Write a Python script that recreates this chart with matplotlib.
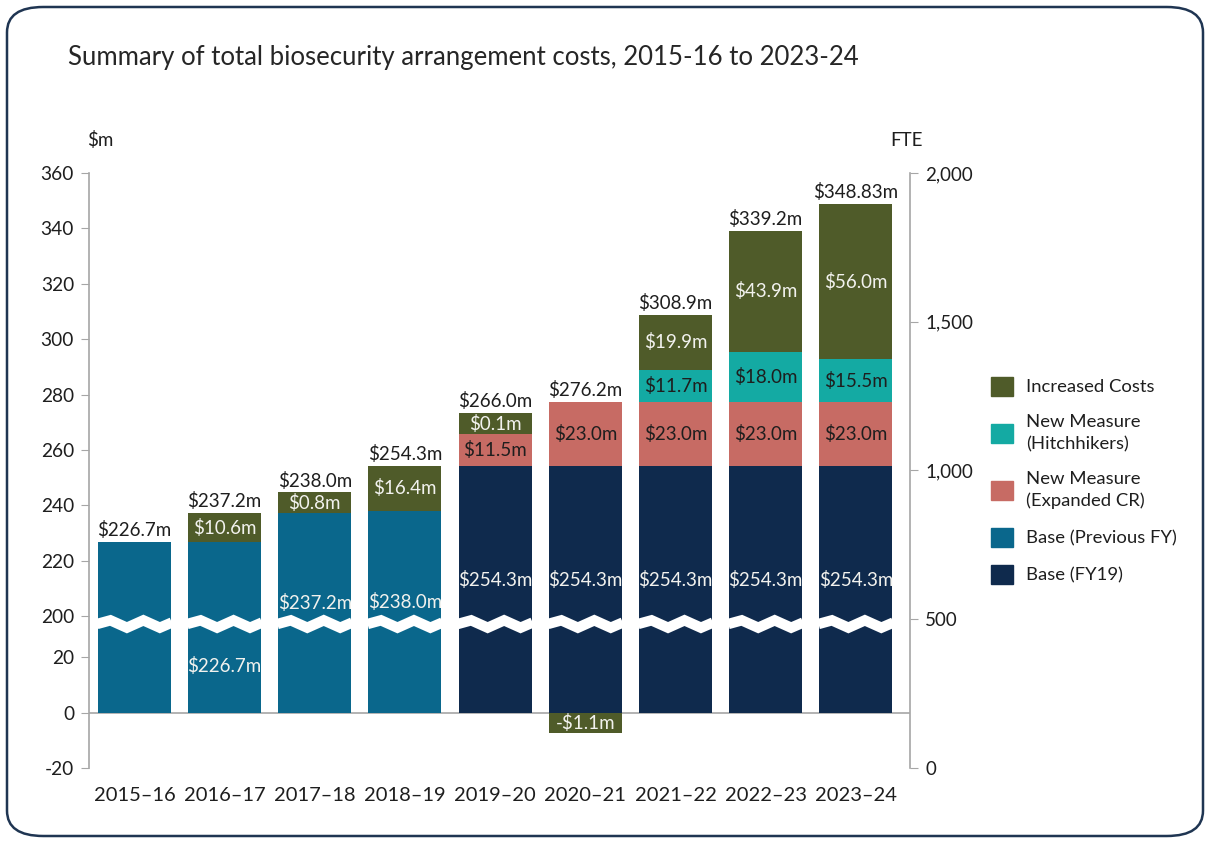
import numpy as np
import matplotlib.pyplot as plt
from matplotlib.patches import Patch, FancyBboxPatch

plt.rcParams['font.family'] = ['Lato', 'DejaVu Sans']

# Data
years = ['2015–16', '2016–17', '2017–18', '2018–19', '2019–20',
         '2020–21', '2021–22', '2022–23', '2023–24']
base_prev = [226.7, 226.7, 237.2, 238.0, 0, 0, 0, 0, 0]
base_fy19 = [0, 0, 0, 0, 254.3, 254.3, 254.3, 254.3, 254.3]
expanded_cr = [0, 0, 0, 0, 11.5, 23.0, 23.0, 23.0, 23.0]
hitchhikers = [0, 0, 0, 0, 0, 0, 11.7, 18.0, 15.5]
increased = [0, 10.6, 0.8, 16.4, 0.1, -1.1, 19.9, 43.9, 56.0]
totals = [226.7, 237.2, 238.0, 254.3, 266.0, 276.2, 308.9, 339.2, 348.83]
show_base_label = [False, True, True, True, True, True, True, True, True]

left_ticks = [-20, 0, 20, 200, 220, 240, 260, 280, 300, 320, 340, 360]
fte_ticks = [0, 500, 1000, 1500, 2000]

c_prev = '#0A678C'
c_fy19 = '#0F2A4D'
c_cr = '#C76B64'
c_hh = '#14AAA3'
c_inc = '#4F5B29'
light = '#F2F2EE'
dark = '#1E1E1E'

# broken value axis: 20..200 squeezed into a small gap
GAP = 14.8
xp = [-1000, 20, 200, 1000]
fp = [-1000, 20, 20 + GAP, 20 + GAP + 800]


def fwd(v):
    return np.interp(v, xp, fp)


def inv(u):
    return np.interp(u, fp, xp)


MIN_H = 7.5  # smallest drawn height so a label fits

fig = plt.figure(figsize=(12.1, 8.44), dpi=100)
ax = fig.add_axes([89.3 / 1210, 1 - 768 / 844, (910 - 89.3) / 1210, 595 / 844])
ax.set_yscale('function', functions=(fwd, inv))
ax.set_xlim(-0.5, 8.6)
ax.set_ylim(-20, 360)

x = np.arange(len(years))
w = 0.81
base = np.array(base_prev) + np.array(base_fy19)
ax.bar(x, base_prev, w, color=c_prev, zorder=2)
ax.bar(x, base_fy19, w, color=c_fy19, zorder=2)
ax.bar(x, expanded_cr, w, bottom=base, color=c_cr, zorder=2)
ax.bar(x, hitchhikers, w, bottom=base + np.array(expanded_cr), color=c_hh, zorder=2)
stack = base + np.array(expanded_cr) + np.array(hitchhikers)

inc_h = [0 if v == 0 else np.sign(v) * max(abs(v), MIN_H) for v in increased]
inc_bottom = [s if v > 0 else 0 for s, v in zip(stack, increased)]
ax.bar(x, inc_h, w, bottom=inc_bottom, color=c_inc, zorder=2)

ax.axhline(0, color='#A6A6A6', lw=1.2, zorder=1)

# segment labels
fs = 13.5
for i in range(len(years)):
    top = base[i]
    if show_base_label[i]:
        yl = (172 + top) / 2
        if yl < 200:
            yl = 17
        ax.text(x[i], yl, f"\\${top:.1f}m", ha='center', va='center',
                color=light, fontsize=fs, zorder=4)
    b = base[i]
    if expanded_cr[i]:
        ax.text(x[i], b + expanded_cr[i] / 2, f"\\${expanded_cr[i]:.1f}m",
                ha='center', va='center', color=dark, fontsize=fs, zorder=4)
        b += expanded_cr[i]
    if hitchhikers[i]:
        ax.text(x[i], b + hitchhikers[i] / 2, f"\\${hitchhikers[i]:.1f}m",
                ha='center', va='center', color=dark, fontsize=fs, zorder=4)
    if increased[i]:
        yc = inc_bottom[i] + inc_h[i] / 2
        v = increased[i]
        txt = f"\\${v:.1f}m" if v > 0 else f"-\\${abs(v):.1f}m"
        ax.text(x[i], yc, txt, ha='center', va='center', color=light,
                fontsize=fs, zorder=4)
    top_drawn = max(stack[i], inc_bottom[i] + max(inc_h[i], 0))
    ax.annotate(f"\\${totals[i]}m", (x[i], top_drawn), xytext=(0, 2),
                textcoords='offset points', ha='center', va='bottom',
                color=dark, fontsize=fs, zorder=4)

# zigzag break across each bar
tr = ax.get_xaxis_transform()
yc_break = 0.242
amp = 0.0062
fr = np.array([0, 0.18, 0.40, 0.62, 0.84, 1.0])
zy = yc_break + amp * np.array([0, 1, -1, 1, -1, 0.4])
for i in range(len(years)):
    ax.plot(x[i] - w / 2 - 0.01 + fr * (w + 0.02), zy, color='white', lw=7.5,
            transform=tr, solid_joinstyle='miter', solid_capstyle='butt',
            zorder=3, clip_on=False)

# axes styling
for s in ['top', 'right', 'bottom']:
    ax.spines[s].set_visible(False)
ax.spines['left'].set_color('#A6A6A6')
ax.spines['left'].set_linewidth(1.2)
ax.set_yticks(left_ticks)
ax.set_yticklabels([str(t) for t in left_ticks])
ax.minorticks_off()
ax.tick_params(axis='y', length=6, color='#A6A6A6', labelsize=13.8,
               labelcolor=dark, pad=5)
ax.set_xticks(x)
ax.set_xticklabels(years)
ax.tick_params(axis='x', length=0, labelsize=14.5, labelcolor=dark, pad=14)

ax2 = ax.twinx()
ax2.set_ylim(0, 2000)
ax2.set_yticks(fte_ticks)
ax2.set_yticklabels([f"{t:,}" for t in fte_ticks])
for s in ['top', 'left', 'bottom']:
    ax2.spines[s].set_visible(False)
ax2.spines['right'].set_color('#A6A6A6')
ax2.spines['right'].set_linewidth(1.2)
ax2.tick_params(axis='y', length=6, color='#A6A6A6', labelsize=13.5,
                labelcolor=dark, pad=5)

fig.text(100 / 1210, 1 - 140 / 844, '\\$m', ha='center', va='center',
         fontsize=13.5, color=dark)
fig.text(906 / 1210, 1 - 140 / 844, 'FTE', ha='center', va='center',
         fontsize=13.5, color=dark)

fig.text(68 / 1210, 1 - 57 / 844,
         'Summary of total biosecurity arrangement costs, 2015-16 to 2023-24',
         ha='left', va='center', fontsize=18.5, color='#262626')

handles = [Patch(color=c_inc), Patch(color=c_hh), Patch(color=c_cr),
           Patch(color=c_prev), Patch(color=c_fy19)]
labels = ['Increased Costs', 'New Measure\n(Hitchhikers)',
          'New Measure\n(Expanded CR)', 'Base (Previous FY)', 'Base (FY19)']
leg = fig.legend(handles, labels, loc='upper left',
                 bbox_to_anchor=(974 / 1210, 1 - 360 / 844), frameon=False,
                 fontsize=13.3, handlelength=1.2, handleheight=1.2,
                 labelspacing=1.0, handletextpad=0.7, labelcolor=dark)
for t in leg.get_texts():
    t.set_linespacing(1.45)

# rounded border
border = FancyBboxPatch((7 / 1210, 1 - 836 / 844), 1196 / 1210, 829 / 844,
                        boxstyle='round,pad=0,rounding_size=0.03',
                        transform=fig.transFigure, fill=False,
                        edgecolor='#1F3552', lw=1.8)
fig.patches.append(border)

fig.savefig('out.png', dpi=100)
